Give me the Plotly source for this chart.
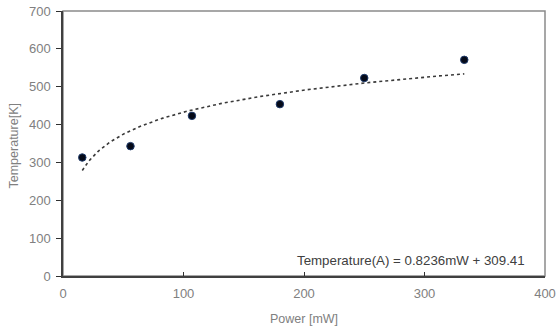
import numpy as np
import plotly.graph_objects as go

power = [16, 56, 107, 180, 250, 333]
temperature = [313, 343, 423, 454, 523, 571]
x_ticks = [0, 100, 200, 300, 400]
y_ticks = [0, 100, 200, 300, 400, 500, 600, 700]
equation = "Temperature(A) = 0.8236mW + 309.41"
x_title = "Power [mW]"
y_title = "Temperature[K]"

# logarithmic trendline fitted to the data
a, b = np.polyfit(np.log(power), temperature, 1)
xt = np.linspace(min(power), max(power), 200)
yt = a * np.log(xt) + b

font_fam = "Liberation Sans"
fig = go.Figure()
fig.add_trace(go.Scatter(x=xt, y=yt, mode="lines",
                         line=dict(color="#3a3a3a", width=1.6, dash="dot"),
                         hoverinfo="skip", showlegend=False))
fig.add_trace(go.Scatter(x=power, y=temperature, mode="markers",
                         marker=dict(size=7.5, color="#050a18",
                                     line=dict(color="#1f3b6b", width=1)),
                         showlegend=False))

fig.add_shape(type="rect", xref="paper", yref="paper", x0=0, y0=0, x1=1, y1=1,
              line=dict(color="#8a8a8a", width=1.5), layer="below")

fig.add_annotation(x=1, y=0, xref="paper", yref="paper", xanchor="right",
                   yanchor="bottom", xshift=-18, yshift=6, text=equation,
                   showarrow=False,
                   font=dict(family=font_fam, size=13.3, color="#404040"))

# axis titles
fig.add_annotation(x=0.5, y=0, xref="paper", yref="paper", xanchor="center",
                   yanchor="middle", yshift=-43, text=x_title, showarrow=False,
                   font=dict(family=font_fam, size=12.5, color="#808080"))
fig.add_annotation(x=0, y=0.5, xref="paper", yref="paper", xanchor="center",
                   yanchor="middle", xshift=-50, yshift=-3, text=y_title,
                   textangle=-90, showarrow=False,
                   font=dict(family=font_fam, size=12.5, color="#808080"))

fig.update_layout(
    width=557, height=327,
    margin=dict(l=63, r=12, t=11, b=51, autoexpand=False),
    paper_bgcolor="white", plot_bgcolor="white",
    font=dict(family=font_fam, size=12, color="#808080"),
    xaxis=dict(range=[0, 400], tickvals=x_ticks, ticks="inside", ticklen=4,
               tickcolor="#303030", showgrid=False, zeroline=False,
               showline=True, linecolor="#404040", linewidth=1.5,
               ticklabelstandoff=5, automargin=False,
               tickfont=dict(size=13, color="#808080")),
    yaxis=dict(range=[0, 700], tickvals=y_ticks, ticks="outside", ticklen=5,
               tickcolor="#303030", showgrid=False, zeroline=False,
               showline=True, linecolor="#404040", linewidth=1.5,
               ticklabelstandoff=3, automargin=False,
               tickfont=dict(size=13, color="#808080")),
)

fig.write_html("out.html")
